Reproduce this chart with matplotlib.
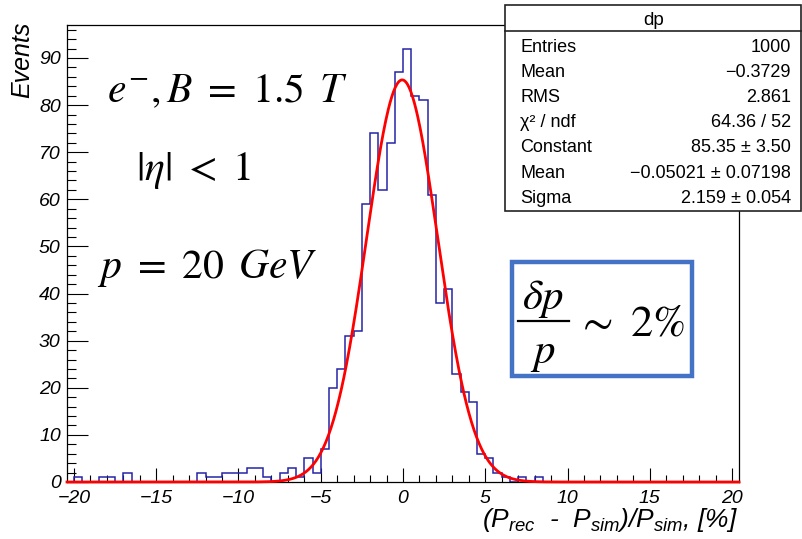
import numpy as np
import matplotlib
matplotlib.use("Agg")
import matplotlib.pyplot as plt
from matplotlib.patches import Rectangle
from matplotlib.lines import Line2D

# Histogram "dp": 80 bins of width 0.5 on [-20, 20]
bin_lo, bin_hi, n_bins = -20.0, 20.0, 80
counts = [1, 0, 0, 1, 1, 0, 2, 0, 0, 0, 0, 0, 0, 0, 0, 2,
          1, 1, 2, 2, 2, 3, 3, 1, 0, 2, 3, 1, 5, 2, 7, 20,
          24, 31, 32, 59, 74, 62, 72, 87, 92, 82, 81, 61, 38, 41, 23, 19,
          17, 6, 5, 2, 1, 0, 1, 0, 1] + [0] * 23

# Gaussian fit result
fit_const, fit_mean, fit_sigma = 85.35, -0.05021, 2.159

# Statistics box
stats_title = "dp"
stats_labels = ["Entries", "Mean", "RMS", "\u03c7\u00b2 / ndf", "Constant", "Mean", "Sigma"]
stats_values = ["1000", "\u22120.3729", "2.861", "64.36 / 52", "85.35 \u00b1 3.50",
                "\u22120.05021 \u00b1 0.07198", "2.159 \u00b1 0.054"]

x_ticks = [-20, -15, -10, -5, 0, 5, 10, 15, 20]
y_ticks = [0, 10, 20, 30, 40, 50, 60, 70, 80, 90]

W, H = 802, 539
fig = plt.figure(figsize=(W / 100, H / 100), dpi=100)
fig.patch.set_facecolor("white")


def px(x, y):
    return x / W, 1 - y / H


plt.rcParams["mathtext.fontset"] = "custom"
plt.rcParams["mathtext.it"] = "Liberation Sans:italic"
plt.rcParams["mathtext.rm"] = "Liberation Sans:italic"
plt.rcParams["mathtext.sf"] = "Liberation Sans:italic"

ax = fig.add_axes([67 / W, (H - 482) / H, 672 / W, 457 / H])
edges = np.linspace(bin_lo, bin_hi, n_bins + 1)
ax.stairs(counts, edges, color="#2424a8", lw=1.1, baseline=0, zorder=2)

xf = np.linspace(-20.42, 20.42, 800)
yf = fit_const * np.exp(-0.5 * ((xf - fit_mean) / fit_sigma) ** 2)
ax.plot(xf, yf, color="#ff0000", lw=2.0, zorder=3, clip_on=False)

ax.set_xlim(-20.42, 20.42)
ax.set_ylim(0, 97)
ax.set_xticks(x_ticks)
ax.set_xticks(np.arange(-20, 21, 1), minor=True)
ax.set_yticks(y_ticks)
ax.set_yticks(np.arange(0, 97, 2), minor=True)
ax.set_xticklabels([f"{t}".replace("-", "\u2212") for t in x_ticks])
ax.set_yticklabels([str(t) for t in y_ticks])
ax.tick_params(axis="x", which="major", direction="in", length=10, width=0.8, pad=5.5)
ax.tick_params(axis="x", which="minor", direction="in", length=5.3, width=0.8)
ax.tick_params(axis="y", which="major", direction="in", length=15, width=0.8, pad=4.5)
ax.tick_params(axis="y", which="minor", direction="in", length=6.7, width=0.8)
for lab in ax.get_xticklabels() + ax.get_yticklabels():
    lab.set_family("Liberation Sans")
    lab.set_style("italic")
    lab.set_fontsize(14)
for sp in ax.spines.values():
    sp.set_linewidth(0.9)
    sp.set_color("black")

# Axis titles
fig.text(*px(22, 22), "Events", rotation=90, ha="center", va="top",
         family="Liberation Sans", style="italic", fontsize=18)
fig.text(*px(738, 527), r"$(P_{rec}$  -  $P_{sim})/P_{sim}$, [%]", ha="right",
         va="baseline", fontsize=19, family="Liberation Sans", style="italic",
         math_fontfamily="custom")

# Physics annotations
fig.text(*px(107, 102), r"$e^{-}, B\ =\ 1.5\ \,T$", ha="left", va="baseline",
         fontsize=30, math_fontfamily="stix")
fig.text(*px(136, 180), r"$|\eta|\ <\ 1$", ha="left", va="baseline",
         fontsize=30, math_fontfamily="stix")
fig.text(*px(97, 278), r"$p\ =\ 20\ \,GeV$", ha="left", va="baseline",
         fontsize=30, math_fontfamily="stix")

# Resolution box
fig.add_artist(Rectangle(px(512, 376), 180 / W, 114 / H, transform=fig.transFigure,
                         fill=False, edgecolor="#4472c4", lw=3.2, zorder=6))
fig.text(*px(543, 309), r"$\delta p$", ha="center", va="baseline", fontsize=31,
         math_fontfamily="stix", zorder=7)
fig.add_artist(Line2D([518 / W, 569 / W], [1 - 321 / H, 1 - 321 / H],
                      transform=fig.transFigure, color="black", lw=1.6, zorder=7))
fig.text(*px(543, 363), r"$p$", ha="center", va="baseline", fontsize=31,
         math_fontfamily="stix", zorder=7)
fig.text(*px(576, 336), r"$\mathrm{\sim\ 2\%}$", ha="left", va="baseline", fontsize=32,
         math_fontfamily="stix", zorder=7)

# Statistics box
bx0, by0, bx1, by1 = 505, 5, 801, 211
fig.add_artist(Rectangle(px(bx0, by1), (bx1 - bx0) / W, (by1 - by0) / H,
                         transform=fig.transFigure, facecolor="white",
                         edgecolor="#222222", lw=1.2, zorder=8))
fig.add_artist(Line2D([bx0 / W, bx1 / W], [1 - 30.5 / H, 1 - 30.5 / H],
                      transform=fig.transFigure, color="#222222", lw=1.2, zorder=9))
fig.text(*px(654, 25), stats_title, ha="center", va="baseline", family="Liberation Sans",
         fontsize=13.5, zorder=10)
for i, (lab, val) in enumerate(zip(stats_labels, stats_values)):
    yb = 51.5 + 25.2 * i
    fig.text(*px(520, yb), lab, ha="left", va="baseline", family="Liberation Sans",
             fontsize=13, zorder=10)
    fig.text(*px(791, yb), val, ha="right", va="baseline", family="Liberation Sans",
             fontsize=13, zorder=10)

fig.savefig("out.png", dpi=100, facecolor="white")
